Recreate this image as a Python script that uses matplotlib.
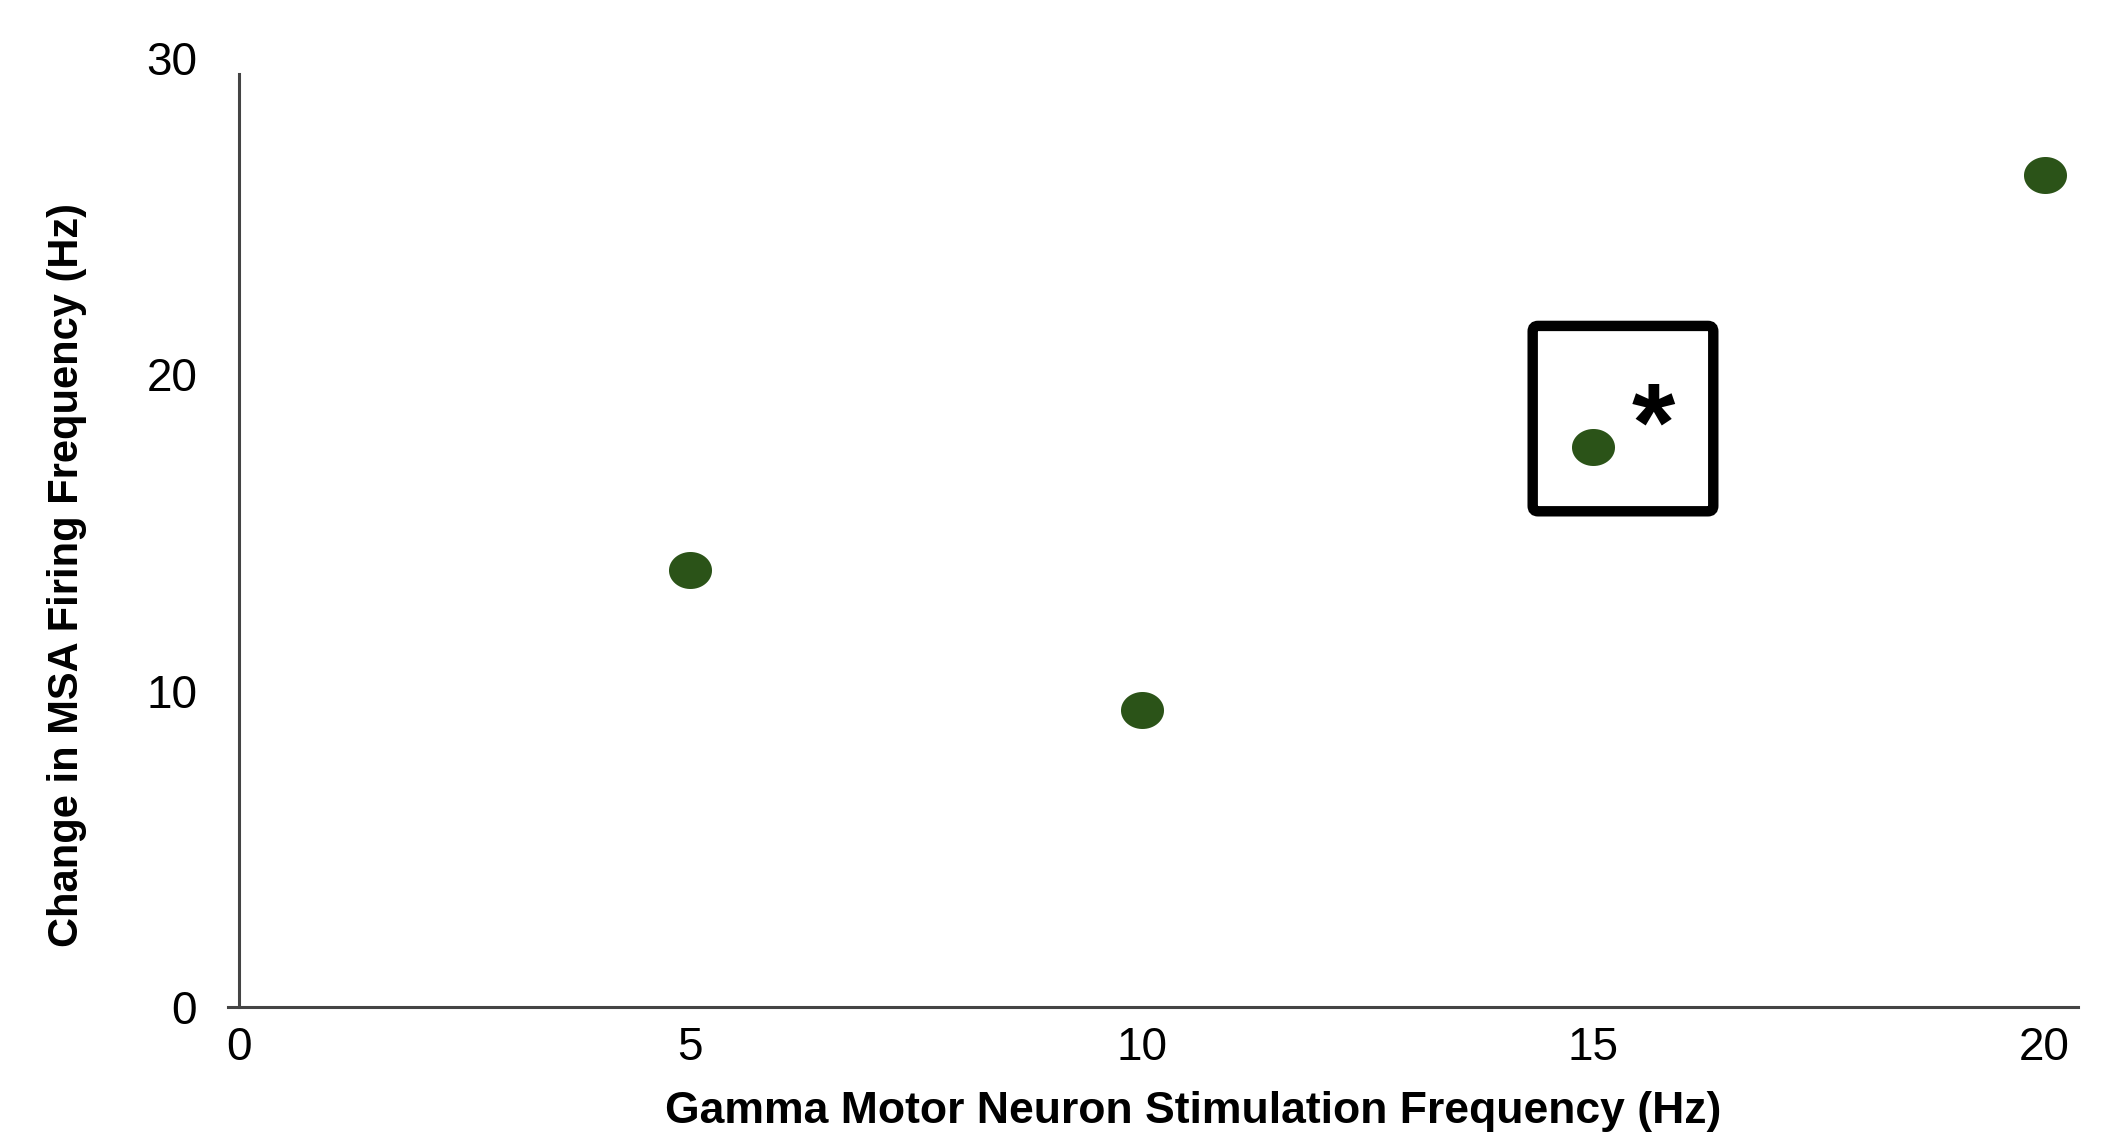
import numpy as np
import matplotlib.pyplot as plt
from matplotlib.path import Path
from matplotlib.patches import FancyBboxPatch

plt.rcParams['font.family'] = ['Liberation Sans', 'DejaVu Sans']

# values
stim_hz = [5, 10, 15, 20]
msa_change = [13.8, 9.4, 17.7, 26.3]
x_ticks = [0, 5, 10, 15, 20]
y_ticks = [0, 10, 20, 30]
highlight_x = 15
highlight_y = 17.7

dot_color = '#2b5318'
axis_color = '#444444'

# the dots in the figure are slightly wider than tall
t = np.linspace(0, 2*np.pi, 60)
ellipse = Path(np.column_stack((np.cos(t), 0.86*np.sin(t))), closed=False)

fig = plt.figure(figsize=(21.05, 11.39), dpi=100)
ax = fig.add_axes([0.1083, 0.1159, 0.8789, 0.8332])

ax.plot(stim_hz, msa_change, linestyle='none', marker=ellipse,
        markersize=31, color=dot_color, markeredgewidth=0)

# box + asterisk around the 15 Hz point
box = FancyBboxPatch((highlight_x - 0.67, highlight_y - 2.03), 2.0, 5.86,
                     boxstyle='round,pad=0,rounding_size=0.06',
                     fill=False, edgecolor='black', linewidth=7.5,
                     mutation_aspect=2.9)
ax.add_patch(box)
ax.text(highlight_x + 0.67, highlight_y + 0.5, '*', fontsize=80,
        fontweight='bold', ha='center', va='center')

ax.set_xlim(-0.12, 20.37)
ax.set_ylim(0, 30)
ax.set_xticks(x_ticks)
ax.set_yticks(y_ticks)
ax.tick_params(length=0, labelsize=33, colors='black')
ax.tick_params(axis='y', pad=30)
ax.tick_params(axis='x', pad=14)

for s in ['top', 'right']:
    ax.spines[s].set_visible(False)
ax.spines['left'].set_position(('data', 0))
ax.spines['left'].set_bounds(0, 29.5)
for s in ['left', 'bottom']:
    ax.spines[s].set_color(axis_color)
    ax.spines[s].set_linewidth(2.2)

ax.set_xlabel('Gamma Motor Neuron Stimulation Frequency (Hz)',
              fontsize=32, fontweight='bold')
ax.xaxis.set_label_coords(0.5216, -0.1106)
ax.xaxis.label.set_va('center')
ax.set_ylabel('Change in MSA Firing Frequency (Hz)',
              fontsize=30, fontweight='bold')
ax.yaxis.set_label_coords(-0.087, 0.455)
ax.yaxis.label.set_va('center')

fig.savefig('out.png', dpi=100)
